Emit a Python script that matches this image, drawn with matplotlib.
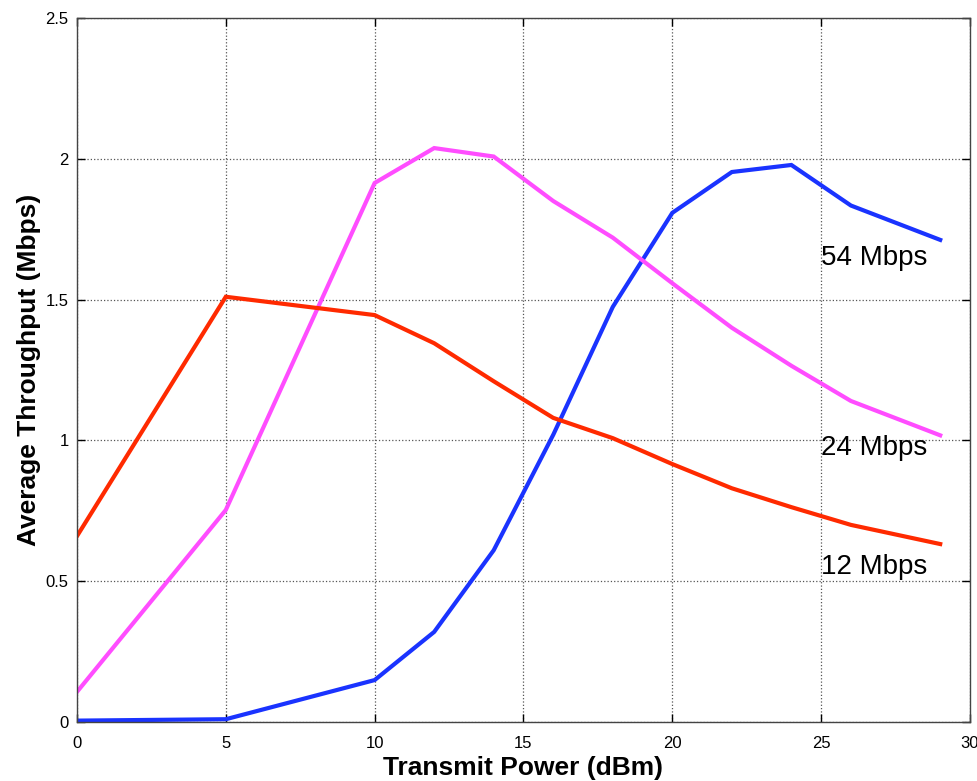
import matplotlib
matplotlib.use("Agg")
import matplotlib.pyplot as plt

plt.rcParams["font.family"] = ["Liberation Sans", "DejaVu Sans"]

power = [0, 5, 10, 12, 14, 16, 18, 20, 22, 24, 26, 29]
thr_12 = [0.66, 1.51, 1.445, 1.345, 1.21, 1.08, 1.008, 0.916, 0.83, 0.763, 0.70, 0.632]
thr_24 = [0.107, 0.753, 1.914, 2.038, 2.008, 1.85, 1.72, 1.558, 1.40, 1.265, 1.14, 1.018]
thr_54 = [0.005, 0.01, 0.149, 0.32, 0.61, 1.02, 1.474, 1.808, 1.953, 1.978, 1.834, 1.712]

series = [
    (thr_54, "#1a33ff", "54 Mbps", 1.648),
    (thr_24, "#ff4dff", "24 Mbps", 0.973),
    (thr_12, "#ff2a00", "12 Mbps", 0.55),
]

fig = plt.figure(figsize=(9.78, 7.81), dpi=100)
ax = fig.add_axes([0.0787, 0.0755, 0.9131, 0.9015])

for vals, col, lab, ylab in series:
    ax.plot(power, vals, color=col, lw=3.0, solid_joinstyle="miter")
    ax.text(25.0, ylab, lab, fontsize=20, va="center", ha="left")

ax.set_xlim(0, 30)
ax.set_ylim(0, 2.5)
ax.set_xticks([0, 5, 10, 15, 20, 25, 30])
ax.set_yticks([0, 0.5, 1, 1.5, 2, 2.5])
ax.set_yticklabels(["0", "0.5", "1", "1.5", "2", "2.5"])
ax.tick_params(direction="in", length=6, width=1, labelsize=12,
               top=True, right=True)
ax.tick_params(axis="x", pad=10)
ax.tick_params(axis="y", pad=6)
ax.grid(True, ls=":", color="#555555", lw=0.9)
for sp in ax.spines.values():
    sp.set_color("#444444")
    sp.set_linewidth(1.0)

ax.set_xlabel("Transmit Power (dBm)", fontsize=19, fontweight="bold", labelpad=4)
ax.set_ylabel("Average Throughput (Mbps)", fontsize=19, fontweight="bold", labelpad=3)

fig.savefig("out.png", dpi=100)
